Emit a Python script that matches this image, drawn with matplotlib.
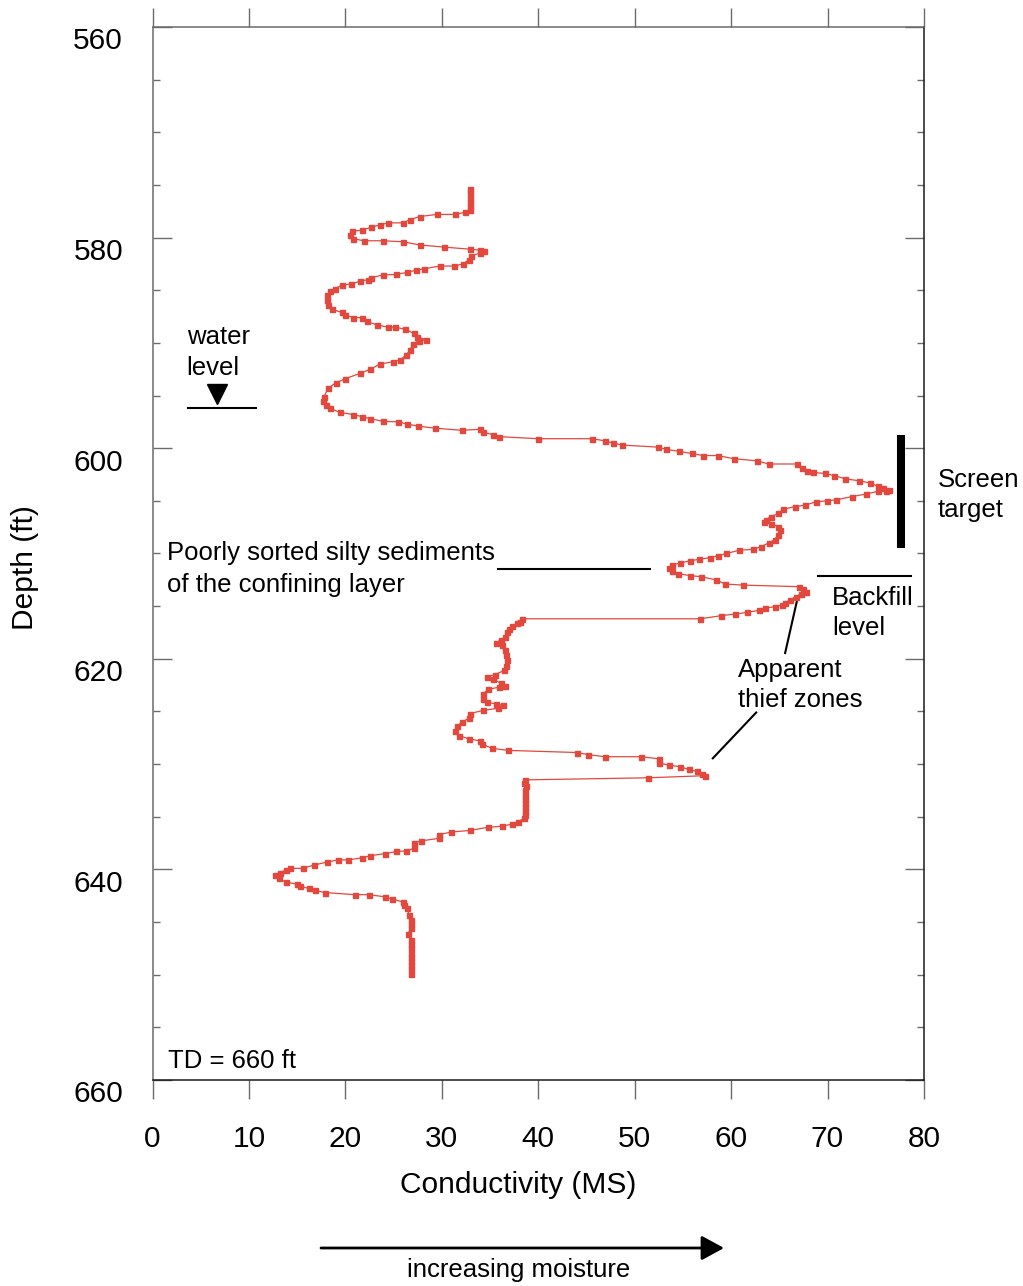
import matplotlib
matplotlib.use("Agg")
import matplotlib.pyplot as plt
from matplotlib.patches import FancyArrowPatch
from matplotlib.transforms import ScaledTranslation

plt.rcParams['font.family'] = ['Liberation Sans', 'DejaVu Sans']

# Conductivity log (MS) versus depth (ft)
conductivity = [
    32.9, 32.9, 32.9, 32.9, 32.9, 32.9,
    32.4, 31.4, 29.5, 27.7, 26.7, 26.0, 24.4, 23.6, 22.7, 21.7, 20.7, 20.5, 20.8, 21.9,
    23.9, 26.0, 27.7, 30.2, 32.9, 34.0, 34.4, 34.0, 33.0, 32.8, 32.2, 31.3, 29.8, 28.2,
    27.3, 26.4, 25.3, 23.9, 22.7, 22.3, 21.5, 20.6, 19.7, 18.9, 18.4, 18.1, 18.1, 18.2,
    18.6, 19.6, 20.0, 20.8, 21.7, 22.2, 23.3, 24.4, 25.1, 26.2, 27.1, 27.4, 28.4, 27.6,
    27.0, 26.7, 26.3, 25.7, 24.9, 23.6, 22.6, 21.5, 20.0, 19.0, 18.2, 17.8,
    17.7, 18.0, 18.4, 19.4, 20.8, 21.7, 22.6, 23.9, 25.5, 26.4, 27.5, 29.3, 32.1, 34.0,
    34.3, 35.3, 35.9, 40.0, 45.6, 46.9, 47.7, 48.7, 52.4, 53.2, 54.6, 55.9, 57.1, 58.6,
    60.3, 62.7, 63.9, 66.8, 67.4, 67.9, 68.5, 69.7, 70.7, 71.8, 73.3, 74.4, 75.2, 75.8,
    76.4, 76.1, 75.2, 74.0, 72.5, 70.9, 69.9, 68.8, 67.7, 66.6, 65.4, 64.9, 64.1, 63.6,
    63.4, 64.1, 64.9, 65.1, 64.9, 64.5, 63.9, 63.1, 62.3, 60.8, 59.5, 58.6, 57.8, 56.7,
    55.7, 54.7, 53.9, 53.6, 53.9, 54.5, 55.7, 56.9, 58.4, 59.4, 61.2, 67.0, 67.5, 67.8,
    67.2, 66.7, 66.1, 65.6, 65.3, 64.5, 63.5, 62.9, 61.6, 60.4, 59.0, 56.8, 38.3, 38.1,
    37.8, 37.3, 37.0, 36.8, 36.6, 36.1, 35.6, 36.2, 36.6, 36.7, 36.8, 36.7, 36.5, 35.5,
    34.7, 35.3, 36.1, 36.6, 35.9, 34.8, 34.3, 34.3, 34.7, 35.6, 36.3, 35.8, 34.3, 32.9,
    32.8, 32.1, 31.6, 31.4, 31.8, 32.8, 34.0, 34.2, 35.2, 36.9, 44.0, 45.2, 46.9, 50.7,
    52.5, 52.5, 53.6, 54.7, 55.6, 56.5, 57.0, 57.3, 51.4, 38.6, 38.5, 38.7, 38.6, 38.6,
    38.6, 38.6, 38.6, 38.6, 38.6, 38.5, 37.9, 37.3, 36.2, 34.8, 32.9, 31.0, 29.7, 29.7,
    27.8, 27.1, 27.1, 26.3, 25.3, 24.1, 22.6, 21.7, 20.3, 19.2, 18.1, 16.7, 15.6, 14.3,
    13.8, 13.2, 12.7, 13.1, 13.8, 15.0, 15.3, 16.2, 16.8, 17.9, 21.0, 22.4, 24.1, 24.8,
    26.0, 26.1, 26.4, 26.6, 26.8, 26.8, 26.8, 26.5, 26.8, 26.8, 26.8, 26.8, 26.8, 26.8,
    26.8, 26.8, 26.8,
]
depth = [
    575.4, 575.8, 576.2, 576.6, 577.0, 577.4,
    577.6, 577.8, 577.8, 578.0, 578.3, 578.6, 578.6, 578.8, 579.0, 579.3, 579.4, 579.8, 580.1, 580.3,
    580.3, 580.4, 580.7, 580.9, 581.1, 581.2, 581.3, 581.5, 581.7, 582.1, 582.5, 582.7, 582.7, 582.95,
    583.1, 583.3, 583.5, 583.55, 583.8, 584.0, 584.15, 584.4, 584.5, 584.85, 585.1, 585.45, 585.9, 586.4,
    586.8, 587.1, 587.35, 587.6, 587.6, 587.95, 588.3, 588.5, 588.5, 588.7, 589.1, 589.4, 589.7, 589.8,
    590.1, 590.7, 591.15, 591.6, 591.8, 592.0, 592.5, 592.9, 593.4, 593.8, 594.3, 595.1,
    595.5, 595.9, 596.2, 596.6, 596.8, 597.0, 597.2, 597.45, 597.5, 597.7, 597.9, 598.1, 598.3, 598.2,
    598.5, 598.7, 598.9, 599.1, 599.1, 599.3, 599.5, 599.7, 599.9, 600.1, 600.3, 600.5, 600.7, 600.7,
    601.0, 601.2, 601.5, 601.5, 601.9, 602.2, 602.3, 602.4, 602.6, 602.9, 603.1, 603.3, 603.6, 603.8,
    603.97, 604.05, 604.1, 604.35, 604.6, 604.9, 605.0, 605.1, 605.4, 605.55, 605.8, 606.2, 606.5, 606.8,
    607.0, 607.2, 607.45, 607.8, 608.2, 608.7, 609.0, 609.35, 609.6, 609.7, 610.0, 610.2, 610.4, 610.55,
    610.7, 610.9, 611.1, 611.4, 611.7, 611.9, 612.1, 612.2, 612.5, 612.9, 613.0, 613.15, 613.4, 613.7,
    613.85, 614.1, 614.4, 614.7, 614.9, 615.05, 615.2, 615.4, 615.6, 615.75, 615.9, 616.2, 616.2, 616.5,
    616.6, 616.9, 617.2, 617.5, 617.9, 618.2, 618.5, 618.7, 619.2, 619.6, 620.1, 620.7, 621.1, 621.5,
    621.7, 621.95, 622.3, 622.6, 622.7, 622.9, 623.3, 623.8, 624.1, 624.3, 624.4, 624.7, 624.9, 625.2,
    625.65, 626.0, 626.4, 626.9, 627.3, 627.6, 627.8, 628.1, 628.5, 628.7, 628.9, 629.1, 629.3, 629.3,
    629.5, 629.9, 630.1, 630.25, 630.5, 630.7, 630.9, 631.1, 631.3, 631.5, 631.8, 632.1, 632.5, 632.9,
    633.3, 633.7, 634.1, 634.5, 634.8, 635.15, 635.5, 635.7, 635.9, 636.0, 636.3, 636.45, 636.7, 637.05,
    637.3, 637.5, 638.0, 638.25, 638.3, 638.5, 638.7, 638.9, 639.1, 639.1, 639.3, 639.6, 639.9, 639.9,
    640.1, 640.3, 640.5, 640.85, 641.2, 641.4, 641.6, 641.8, 642.0, 642.2, 642.4, 642.4, 642.6, 642.8,
    643.1, 643.4, 643.7, 644.3, 644.8, 645.2, 645.6, 646.1, 646.7, 647.1, 647.5, 647.9, 648.3, 648.7,
    649.1, 649.5, 649.9,
]

x_ticks = [0, 10, 20, 30, 40, 50, 60, 70, 80]
depth_major = [560, 580, 600, 620, 640, 660]
depth_minor = [565, 570, 575, 585, 590, 595, 605, 610, 615, 625, 630, 635, 645, 650, 655]

RED = '#e2483d'
AXC = '#6b6b6b'
FS_TICK = 21.5
FS_NOTE = 18.5

fig = plt.figure(figsize=(10.23, 12.86), dpi=100)
ax = fig.add_axes([152.5 / 1023, 1 - 1080 / 1286, (924 - 152.5) / 1023, (1080 - 27) / 1286])

ax.plot(conductivity, depth, color=RED, lw=0.9, marker='s', ms=3.6, mec=RED, mfc=RED, zorder=3)

ax.set_xlim(0, 80)
ax.set_ylim(660, 560)

# axes frame
for side in ('top', 'left'):
    ax.spines[side].set_color(AXC)
for side in ('bottom', 'right'):
    ax.spines[side].set_color('#1a1a1a')
for s in ax.spines.values():
    s.set_linewidth(1.1)

ax.set_xticks(x_ticks)
ax.set_xticklabels([str(v) for v in x_ticks])
ax.tick_params(axis='x', which='major', direction='out', top=True, bottom=True,
               length=13.7, width=1.0, color=AXC, labelsize=FS_TICK, pad=19)

ax.set_yticks(depth_major)
ax.set_yticks(depth_minor, minor=True)
ax.set_yticklabels([])
ax.tick_params(axis='y', which='major', direction='in', left=True, right=True,
               length=14, width=1.0, color=AXC)
ax.tick_params(axis='y', which='minor', direction='in', left=True, right=True,
               length=5, width=1.0, color=AXC)

# depth labels sit slightly below their ticks
ylab_tr = ax.get_yaxis_transform() + ScaledTranslation(-0.295, -0.224, fig.dpi_scale_trans)
for d in depth_major:
    ax.text(0, d, str(d), transform=ylab_tr, ha='right', va='baseline',
            fontsize=FS_TICK, clip_on=False)

fig.text(518.5 / 1023, 1 - 1193 / 1286, 'Conductivity (MS)', ha='center', va='baseline',
         fontsize=FS_TICK)
fig.text(25 / 1023, 1 - 567.5 / 1286, 'Depth (ft)', rotation=90, ha='center', va='center',
         fontsize=FS_TICK)

# water level marker
ax.text(3.55, 590.13, 'water', fontsize=FS_NOTE, va='baseline')
ax.text(3.55, 593.05, 'level', fontsize=FS_NOTE, va='baseline')
ax.plot([6.69], [594.85], marker='v', ms=14.5, color='black', mec='black', zorder=4)
ax.plot([3.68, 10.74], [596.2, 596.2], color='black', lw=1.5)

# confining layer
ax.text(1.5, 610.6, 'Poorly sorted silty sediments', fontsize=FS_NOTE, va='baseline')
ax.text(1.5, 613.63, 'of the confining layer', fontsize=FS_NOTE, va='baseline')
ax.plot([35.84, 51.61], [611.47, 611.47], color='black', lw=1.5)

# screen target
ax.plot([77.65, 77.65], [598.75, 609.5], color='black', lw=5.8, solid_capstyle='butt',
        clip_on=False, zorder=4)
ax.text(81.4, 603.68, 'Screen', fontsize=FS_NOTE, va='baseline', clip_on=False)
ax.text(81.4, 606.5, 'target', fontsize=FS_NOTE, va='baseline', clip_on=False)

# backfill level
ax.plot([69.0, 78.7], [612.1, 612.1], color='black', lw=1.5)
ax.text(70.45, 614.9, 'Backfill', fontsize=FS_NOTE, va='baseline')
ax.text(70.45, 617.7, 'level', fontsize=FS_NOTE, va='baseline')

# thief zones
ax.text(60.7, 621.7, 'Apparent', fontsize=FS_NOTE, va='baseline')
ax.text(60.7, 624.6, 'thief zones', fontsize=FS_NOTE, va='baseline')
ax.plot([65.6, 66.8], [619.45, 614.6], color='black', lw=1.5)
ax.plot([62.6, 58.1], [625.1, 629.45], color='black', lw=1.5)

# total depth
ax.text(1.6, 658.9, 'TD = 660 ft', fontsize=FS_NOTE, va='baseline')

# moisture direction arrow
fig.add_artist(FancyArrowPatch(
    (321 / 1023, 1 - 1248 / 1286), (724 / 1023, 1 - 1248 / 1286),
    transform=fig.transFigure, arrowstyle='-|>,head_length=0.55,head_width=0.3',
    mutation_scale=25, lw=2, color='black', shrinkA=0, shrinkB=0))
fig.text(518.5 / 1023, 1 - 1277 / 1286, 'increasing moisture', ha='center', va='baseline',
         fontsize=FS_NOTE)

fig.savefig('out.png', dpi=100)
